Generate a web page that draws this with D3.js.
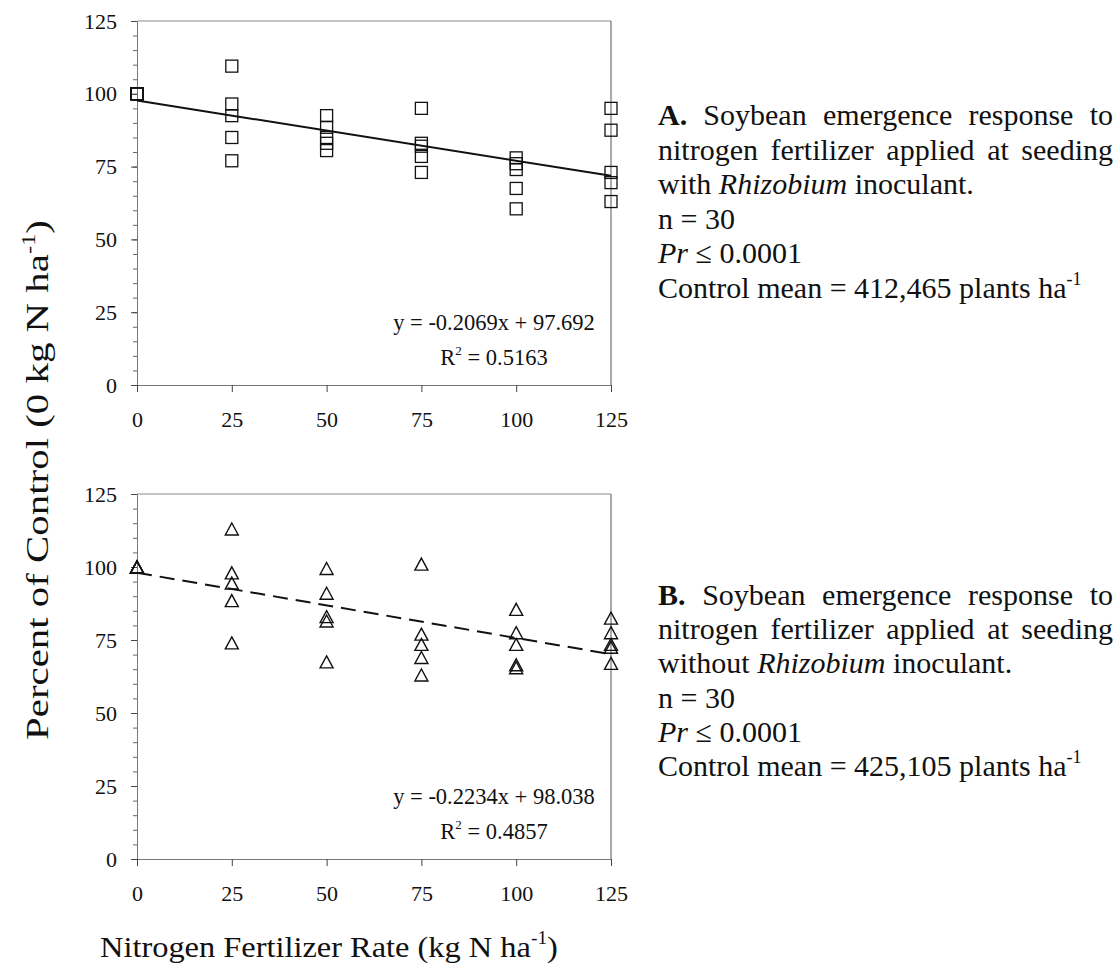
<!DOCTYPE html>
<html>
<head>
<meta charset="utf-8">
<script src="https://cdn.jsdelivr.net/npm/d3@7"></script>
<style>
  body { margin: 0; background: #fff; }
  svg { display: block; }
  text { font-family: "Liberation Serif", "Times New Roman", serif; fill: #111; }
</style>
</head>
<body>
<svg id="chart" width="1120" height="967"></svg>
<script>
// N fertilizer rates (kg N/ha) and emergence as percent of the 0 kg N control
const rates = [0, 25, 50, 75, 100, 125];
const withInoculant = [
  [100, 100, 100, 100, 100],
  [109.5, 96.5, 92.5, 85, 77],
  [92.5, 88.5, 85, 83, 80.5],
  [95, 83, 82, 78.5, 73],
  [78, 76, 74, 67.5, 60.5],
  [95, 87.5, 73, 69.5, 63]
];
const withoutInoculant = [
  [100, 100, 100, 100, 100],
  [113, 98, 94.5, 88.5, 74],
  [99.5, 91, 83, 81.5, 67.5],
  [101, 77, 73.5, 69, 63],
  [85.5, 77.5, 73.5, 66.5, 65.5],
  [82.5, 77.5, 73.5, 72.5, 67]
];
const xTicks = [0, 25, 50, 75, 100, 125];
const yTicks = [0, 25, 50, 75, 100, 125];
const yMinorTicks = d3.range(0, 126, 5);
const fitWith = { slope: -0.2069, intercept: 97.692, eq: "y = -0.2069x + 97.692", r2: "0.5163" };
const fitWithout = { slope: -0.2234, intercept: 98.038, eq: "y = -0.2234x + 98.038", r2: "0.4857" };

const svg = d3.select("#chart");
const FONT = '"Liberation Serif", "Times New Roman", serif';

const panels = [
  { top: 21, bottom: 385, data: withInoculant, fit: fitWith, marker: "square", dash: null },
  { top: 494, bottom: 859, data: withoutInoculant, fit: fitWithout, marker: "triangle", dash: "15,8" }
];
const left = 137, right = 611;

panels.forEach(p => {
  const x = d3.scaleLinear().domain([0, 125]).range([left, right]);
  const y = d3.scaleLinear().domain([0, 125]).range([p.bottom, p.top]);
  const g = svg.append("g");

  // plot frame
  g.append("line").attr("x1", left).attr("x2", right).attr("y1", p.top).attr("y2", p.top)
    .attr("stroke", "#8a8a8a").attr("stroke-width", 1);
  g.append("line").attr("x1", right).attr("x2", right).attr("y1", p.top).attr("y2", p.bottom)
    .attr("stroke", "#555").attr("stroke-width", 1);

  // minor y ticks
  g.append("g").attr("transform", `translate(${left},0)`)
    .call(d3.axisLeft(y).tickValues(yMinorTicks).tickSize(4).tickFormat(""))
    .call(s => s.select(".domain").remove())
    .selectAll("line").attr("stroke", "#666");

  // major y axis
  const ya = g.append("g").attr("transform", `translate(${left},0)`)
    .call(d3.axisLeft(y).tickValues(yTicks).tickSize(6).tickPadding(14).tickSizeOuter(0));
  ya.select(".domain").attr("stroke", "#777");
  ya.selectAll("line").attr("stroke", "#444");
  ya.selectAll("text").attr("font-family", FONT).attr("font-size", 22).attr("fill", "#111");

  // x axis
  const xa = g.append("g").attr("transform", `translate(0,${p.bottom})`)
    .call(d3.axisBottom(x).tickValues(xTicks).tickSize(7).tickPadding(19).tickSizeOuter(0));
  xa.select(".domain").attr("stroke", "#777");
  xa.selectAll("line").attr("stroke", "#444");
  xa.selectAll("text").attr("font-family", FONT).attr("font-size", 22).attr("fill", "#111");

  // points
  const pts = [];
  p.data.forEach((vals, i) => vals.forEach(v => pts.push({ x: rates[i], y: v })));
  if (p.marker === "square") {
    g.append("g").selectAll("rect").data(pts).join("rect")
      .attr("x", d => x(d.x) - 6).attr("y", d => y(d.y) - 6)
      .attr("width", 12).attr("height", 12)
      .attr("fill", "none").attr("stroke", "#111").attr("stroke-width", 1.3);
  } else {
    const w = 13, h = 12;
    g.append("g").selectAll("path").data(pts).join("path")
      .attr("transform", d => `translate(${x(d.x)},${y(d.y)})`)
      .attr("d", `M0,${-h / 2}L${w / 2},${h / 2}L${-w / 2},${h / 2}Z`)
      .attr("fill", "none").attr("stroke", "#111").attr("stroke-width", 1.4)
      .attr("stroke-linejoin", "miter");
  }

  // fitted regression line
  const fitLine = d3.line().x(d => x(d)).y(d => y(p.fit.slope * d + p.fit.intercept));
  g.append("path").datum([0, 125]).attr("d", fitLine)
    .attr("fill", "none").attr("stroke", "#111").attr("stroke-width", 2)
    .attr("stroke-dasharray", p.dash);

  // equation and R²
  const cx = 494;
  g.append("text").attr("x", cx).attr("y", p.bottom - 55).attr("text-anchor", "middle")
    .attr("font-size", 22.5).text(p.fit.eq);
  const r = g.append("text").attr("x", cx).attr("y", p.bottom - 20).attr("text-anchor", "middle")
    .attr("font-size", 22.5);
  r.append("tspan").text("R");
  r.append("tspan").attr("font-size", 13).attr("dy", -10).text("2");
  r.append("tspan").attr("dy", 10).text(" = " + p.fit.r2);
});

// axis titles
function superTitle(sel, before, sup, after, size) {
  sel.append("tspan").text(before);
  sel.append("tspan").attr("font-size", size * 0.6).attr("dy", -size * 0.42).text(sup);
  sel.append("tspan").attr("dy", size * 0.42).text(after);
}

const yTitle = svg.append("text").attr("text-anchor", "middle").attr("font-size", 32)
  .attr("transform", "translate(48,480) rotate(-90)");
superTitle(yTitle, "Percent of Control (0 kg N ha", "-1", ")", 32);
const yLen = yTitle.node().getComputedTextLength();
yTitle.attr("transform", `translate(48,480) rotate(-90) scale(${520 / yLen},1)`);

const xTitle = svg.append("text").attr("x", 0).attr("y", 0).attr("font-size", 30);
superTitle(xTitle, "Nitrogen Fertilizer Rate (kg N ha", "-1", ")", 30);
const xLen = xTitle.node().getComputedTextLength();
xTitle.attr("transform", `translate(100,957) scale(${458 / xLen},1)`);

// side captions
const captionA = [
  { words: [[{ t: "A.", b: 1 }], [{ t: "Soybean" }], [{ t: "emergence" }], [{ t: "response" }], [{ t: "to" }]], justify: true },
  { words: [[{ t: "nitrogen" }], [{ t: "fertilizer" }], [{ t: "applied" }], [{ t: "at" }], [{ t: "seeding" }]], justify: true },
  { words: [[{ t: "with" }], [{ t: "Rhizobium", i: 1 }], [{ t: "inoculant." }]] },
  { words: [[{ t: "n" }], [{ t: "=" }], [{ t: "30" }]] },
  { words: [[{ t: "Pr", i: 1 }], [{ t: "≤" }], [{ t: "0.0001" }]] },
  { words: [[{ t: "Control" }], [{ t: "mean" }], [{ t: "=" }], [{ t: "412,465" }], [{ t: "plants" }], [{ t: "ha" }, { t: "-1", s: 1 }]] }
];
const captionB = [
  { words: [[{ t: "B.", b: 1 }], [{ t: "Soybean" }], [{ t: "emergence" }], [{ t: "response" }], [{ t: "to" }]], justify: true },
  { words: [[{ t: "nitrogen" }], [{ t: "fertilizer" }], [{ t: "applied" }], [{ t: "at" }], [{ t: "seeding" }]], justify: true },
  { words: [[{ t: "without" }], [{ t: "Rhizobium", i: 1 }], [{ t: "inoculant." }]] },
  { words: [[{ t: "n" }], [{ t: "=" }], [{ t: "30" }]] },
  { words: [[{ t: "Pr", i: 1 }], [{ t: "≤" }], [{ t: "0.0001" }]] },
  { words: [[{ t: "Control" }], [{ t: "mean" }], [{ t: "=" }], [{ t: "425,105" }], [{ t: "plants" }], [{ t: "ha" }, { t: "-1", s: 1 }]] }
];

function drawCaption(lines, x0, y0, lead, width, size) {
  const g = svg.append("g");
  lines.forEach((line, li) => {
    const yb = y0 + li * lead;
    const nodes = line.words.map(word => {
      const t = g.append("text").attr("y", yb).attr("font-size", size);
      word.forEach(seg => {
        const ts = t.append("tspan").text(seg.t);
        if (seg.b) ts.attr("font-weight", "bold");
        if (seg.i) ts.attr("font-style", "italic");
        if (seg.s) ts.attr("font-size", size * 0.6).attr("dy", -size * 0.42);
      });
      return t;
    });
    const widths = nodes.map(n => n.node().getComputedTextLength());
    const total = d3.sum(widths);
    const gap = line.justify ? (width - total) / (nodes.length - 1) : size * 0.25;
    let cx = x0;
    nodes.forEach((n, i) => { n.attr("x", cx); cx += widths[i] + gap; });
  });
}
drawCaption(captionA, 658, 125, 34.6, 455, 30);
drawCaption(captionB, 658, 605, 34.2, 455, 30);
</script>
</body>
</html>
